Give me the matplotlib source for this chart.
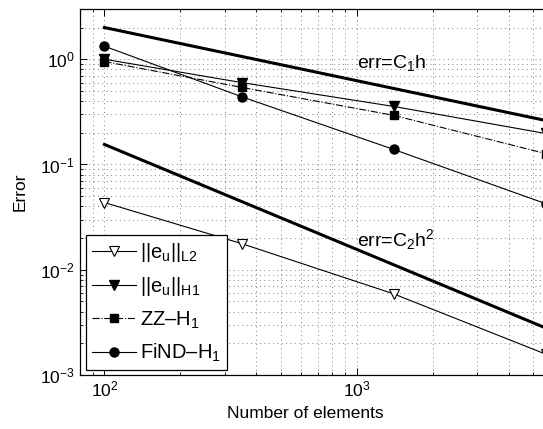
import matplotlib
matplotlib.use("Agg")
import matplotlib.pyplot as plt

plt.rcParams['font.family'] = ['Liberation Sans', 'DejaVu Sans']
plt.rcParams['mathtext.fontset'] = 'custom'
plt.rcParams['mathtext.rm'] = 'Liberation Sans'
plt.rcParams['mathtext.it'] = 'Liberation Sans'
plt.rcParams['mathtext.bf'] = 'Liberation Sans:bold'
plt.rcParams['mathtext.default'] = 'rm'

# mesh sizes and error norms
n_elements = [100, 350, 1400, 5600]
err_l2 = [0.0435, 0.0177, 0.0059, 0.00158]
err_h1 = [1.0, 0.60, 0.356, 0.197]
err_zz = [0.95, 0.54, 0.293, 0.127]
err_find = [1.33, 0.44, 0.139, 0.0425]

# reference slopes (end points)
ref_n = [100, 5600]
ref_c1 = [2.0, 0.262]
ref_c2 = [0.155, 0.0028]

fig = plt.figure(figsize=(5.43, 4.29), dpi=100)
ax = fig.add_axes([80 / 543, 54 / 429, 490 / 543, 366 / 429])

thin = 0.8
ax.loglog(ref_n, ref_c1, '-', color='k', lw=2.2)
ax.loglog(ref_n, ref_c2, '-', color='k', lw=2.2)
l2, = ax.loglog(n_elements, err_l2, '-v', color='k', lw=thin, ms=7,
                mfc='white', mec='k', mew=0.8, label=r'$||e_u||_{L2}$')
h1, = ax.loglog(n_elements, err_h1, '-v', color='k', lw=thin, ms=7,
                label=r'$||e_u||_{H1}$')
zz, = ax.loglog(n_elements, err_zz, '-.s', color='k', lw=thin, ms=5.5,
                label='ZZ–H$_1$')
fnd, = ax.loglog(n_elements, err_find, '-o', color='k', lw=thin, ms=6.5,
                 label='FiND–H$_1$')

ax.text(1000, 0.82, r'err=C$_1$h', fontsize=14, va='baseline')
ax.text(1000, 0.0169, r'err=C$_2$h$^2$', fontsize=14, va='baseline')

ax.set_xlim(80, 7000)
ax.set_ylim(1e-3, 3)

ax.grid(True, which='both', linestyle=(0, (1, 3.5)), color='0.5', lw=0.7)
ax.tick_params(which='both', direction='in', top=True, right=True,
               labelsize=12.5)
ax.tick_params(which='major', length=5, width=0.7)
ax.tick_params(which='minor', length=2.5, width=0.6)
for s in ax.spines.values():
    s.set_linewidth(0.9)

ax.set_xlabel('Number of elements', fontsize=12.5)
ax.set_ylabel('Error', fontsize=12.5)
ax.xaxis.set_label_coords((305 - 80) / 490, -0.085)
ax.yaxis.set_label_coords(-52 / 490, 0.5)

leg = ax.legend(handles=[l2, h1, zz, fnd], loc='lower left',
                bbox_to_anchor=(6 / 490, 5 / 366), fontsize=14.5,
                fancybox=False, framealpha=1, edgecolor='k',
                handlelength=2.2, handletextpad=0.2, labelspacing=0.55,
                borderpad=0.3, borderaxespad=0)
leg.get_frame().set_linewidth(0.9)

fig.savefig('out.png', dpi=100)
